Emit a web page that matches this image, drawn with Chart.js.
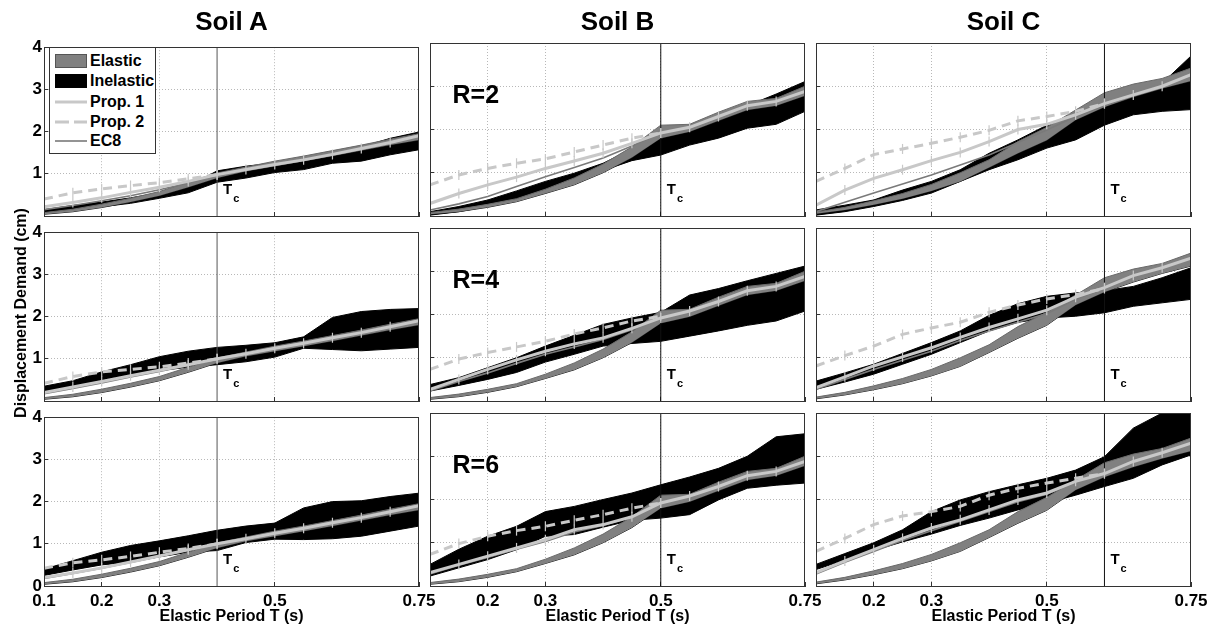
<!DOCTYPE html>
<html><head><meta charset="utf-8">
<script src="https://cdn.jsdelivr.net/npm/chart.js@4.4.0/dist/chart.umd.min.js"></script>
<style>
html,body{margin:0;padding:0;background:#fff;}
body{width:1215px;height:628px;position:relative;overflow:hidden;font-family:'Liberation Sans',Arial,sans-serif;}
.panel{position:absolute;}
.txt{position:absolute;font-weight:bold;color:#000;white-space:nowrap;}
#legend{position:absolute;background:#fff;border:1px solid #333;box-sizing:border-box;}
#legend svg{position:absolute;}
</style></head><body>
<div id="fig"></div>
<script>
// ---------- DATA ----------
const periods = [0.1,0.15,0.2,0.25,0.3,0.35,0.4,0.45,0.5,0.55,0.6,0.65,0.7,0.75];
const xTickValues = [0.1,0.2,0.3,0.5,0.75];
const yTickValues = [0,1,2,3,4];
const soilNames = ['Soil A','Soil B','Soil C'];
const cornerPeriods = [0.4,0.5,0.6];
const behaviourFactors = [2,4,6];
const legendLabels = ['Elastic','Inelastic','Prop. 1','Prop. 2','EC8'];
const xAxisTitle = 'Elastic Period T (s)';
const yAxisTitle = 'Displacement Demand (cm)';

// Elastic band (same for all R) per soil
const elasticA_lo = [0.04,0.1,0.2,0.33,0.48,0.68,0.9,1.06,1.18,1.3,1.42,1.55,1.68,1.8];
const elasticA_hi = [0.08,0.16,0.28,0.42,0.58,0.8,1.02,1.16,1.3,1.42,1.55,1.68,1.82,1.95];
const elasticB_lo = [0.04,0.1,0.2,0.33,0.52,0.72,1.0,1.35,1.8,1.95,2.2,2.45,2.55,2.78];
const elasticB_hi = [0.08,0.16,0.27,0.4,0.62,0.88,1.2,1.6,2.1,2.12,2.4,2.65,2.72,3.0];
const elasticC_lo = [0.05,0.14,0.26,0.4,0.58,0.8,1.12,1.45,1.75,2.22,2.52,2.75,2.95,3.12];
const elasticC_hi = [0.09,0.2,0.35,0.52,0.73,1.0,1.3,1.72,2.05,2.45,2.85,3.05,3.18,3.42];

// Soil A
const inelA2_lo = [0.07,0.15,0.22,0.3,0.42,0.55,0.8,0.9,1.03,1.1,1.25,1.3,1.45,1.57];
const inelA2_hi = [0.15,0.25,0.33,0.43,0.55,0.7,1.07,1.18,1.26,1.37,1.53,1.64,1.84,1.99];
const prop1A2 = [0.22,0.32,0.43,0.56,0.68,0.82,0.98,1.1,1.22,1.33,1.46,1.6,1.74,1.9];
const prop2A2 = [0.4,0.55,0.64,0.72,0.79,0.88,0.98,null,null,null,null,null,null,null];
const ec8A2 = [0.15,0.25,0.36,0.48,0.62,0.78,0.98,1.1,1.22,1.33,1.46,1.6,1.74,1.9];

const inelA4_lo = [0.22,0.33,0.5,0.62,0.72,0.8,0.86,0.93,1.04,1.25,1.22,1.19,1.23,1.27];
const inelA4_hi = [0.35,0.48,0.69,0.86,1.05,1.18,1.27,1.32,1.38,1.52,1.98,2.12,2.17,2.19];
const prop1A4 = [0.2,0.33,0.46,0.6,0.73,0.86,1.0,1.12,1.25,1.37,1.5,1.62,1.76,1.9];
const prop2A4 = [0.42,0.58,0.69,0.75,0.81,0.9,1.0,null,null,null,null,null,null,null];
const ec8A4 = [0.17,0.3,0.43,0.57,0.7,0.84,1.0,1.12,1.25,1.37,1.5,1.62,1.76,1.9];

const inelA6_lo = [0.25,0.38,0.5,0.57,0.69,0.8,0.84,1.03,1.11,1.1,1.12,1.18,1.3,1.42];
const inelA6_hi = [0.4,0.6,0.8,0.96,1.07,1.19,1.32,1.42,1.49,1.85,2.0,2.02,2.12,2.2];
const prop1A6 = [0.2,0.31,0.43,0.57,0.71,0.86,1.0,1.12,1.25,1.37,1.5,1.62,1.76,1.9];
const prop2A6 = [0.42,0.55,0.62,0.7,0.8,0.89,1.0,null,null,null,null,null,null,null];
const ec8A6 = [0.18,0.3,0.42,0.56,0.7,0.85,1.0,1.12,1.25,1.37,1.5,1.62,1.76,1.9];

// Soil B
const inelB2_lo = [0.02,0.1,0.22,0.37,0.53,0.78,1.05,1.28,1.41,1.64,1.8,2.03,2.12,2.42];
const inelB2_hi = [0.1,0.22,0.37,0.58,0.8,0.99,1.22,1.55,1.78,2.07,2.25,2.55,2.82,3.11];
const prop1B2 = [0.29,0.52,0.72,0.9,1.1,1.27,1.45,1.68,1.92,2.05,2.3,2.55,2.65,2.88];
const prop2B2 = [0.72,0.95,1.1,1.22,1.32,1.48,1.64,1.8,1.92,null,null,null,null,null];
const ec8B2 = [0.14,0.28,0.45,0.68,0.91,1.12,1.34,1.62,1.92,2.05,2.3,2.55,2.65,2.88];

const inelB4_lo = [0.23,0.36,0.5,0.66,0.9,1.08,1.27,1.33,1.38,1.5,1.62,1.75,1.85,2.08];
const inelB4_hi = [0.38,0.54,0.77,1.0,1.27,1.52,1.77,1.92,2.05,2.45,2.6,2.78,2.95,3.12];
const prop1B4 = [0.27,0.5,0.73,0.95,1.15,1.32,1.46,1.68,1.92,2.08,2.3,2.55,2.65,2.88];
const prop2B4 = [0.73,0.97,1.12,1.25,1.38,1.55,1.69,1.85,1.96,null,null,null,null,null];
const ec8B4 = [0.23,0.45,0.65,0.87,1.08,1.25,1.42,1.65,1.92,2.08,2.3,2.55,2.65,2.88];

const inelB6_lo = [0.23,0.42,0.61,0.84,1.15,1.19,1.36,1.52,1.57,1.65,1.99,2.26,2.33,2.38];
const inelB6_hi = [0.5,0.85,1.15,1.38,1.72,1.84,2.0,2.15,2.34,2.52,2.72,3.0,3.45,3.52];
const prop1B6 = [0.31,0.5,0.69,0.88,1.07,1.3,1.42,1.6,1.92,2.08,2.3,2.55,2.65,2.88];
const prop2B6 = [0.73,0.98,1.15,1.28,1.38,1.52,1.65,1.8,1.92,null,null,null,null,null];
const ec8B6 = [0.28,0.48,0.66,0.85,1.03,1.25,1.4,1.6,1.92,2.08,2.3,2.55,2.65,2.88];

// Soil C
const inelC2_lo = [0.02,0.1,0.22,0.36,0.53,0.8,1.07,1.3,1.57,1.76,2.1,2.34,2.42,2.46];
const inelC2_hi = [0.14,0.25,0.37,0.6,0.8,1.07,1.45,1.76,2.1,2.34,2.55,2.78,3.07,3.7];
const prop1C2 = [0.25,0.6,0.87,1.07,1.28,1.47,1.72,2.0,2.12,2.34,2.6,2.8,3.0,3.27];
const prop2C2 = [0.8,1.1,1.42,1.55,1.68,1.82,1.98,2.2,2.3,2.42,2.6,null,null,null];
const ec8C2 = [0.1,0.32,0.53,0.74,0.95,1.18,1.41,1.7,1.99,2.3,2.55,2.8,3.0,3.27];

const inelC4_lo = [0.27,0.44,0.62,0.85,1.08,1.35,1.62,1.82,1.92,1.96,2.04,2.19,2.27,2.35];
const inelC4_hi = [0.46,0.65,0.85,1.1,1.35,1.62,1.98,2.25,2.42,2.5,2.55,2.65,2.85,3.08];
const prop1C4 = [0.31,0.56,0.81,1.02,1.23,1.47,1.7,1.9,2.1,2.4,2.62,2.9,3.08,3.3];
const prop2C4 = [0.81,1.05,1.27,1.54,1.69,1.82,2.05,2.22,2.36,2.46,2.6,null,null,null];
const ec8C4 = [0.27,0.5,0.73,0.94,1.15,1.4,1.62,1.82,2.02,2.35,2.6,2.9,3.08,3.3];

const inelC6_lo = [0.38,0.6,0.82,1.02,1.2,1.4,1.57,1.76,1.92,2.1,2.3,2.49,2.8,3.03];
const inelC6_hi = [0.5,0.75,1.0,1.3,1.72,1.99,2.18,2.34,2.49,2.68,2.99,3.65,4.0,4.0];
const prop1C6 = [0.31,0.58,0.84,1.1,1.34,1.53,1.76,1.99,2.15,2.42,2.6,2.88,3.08,3.3];
const prop2C6 = [0.8,1.1,1.42,1.62,1.72,1.84,2.1,2.26,2.38,2.49,2.6,null,null,null];
const ec8C6 = [0.28,0.55,0.8,1.05,1.28,1.5,1.72,1.95,2.12,2.4,2.6,2.88,3.08,3.3];

// ---------- lookup tables built from the arrays ----------
const elastic = [[elasticA_lo,elasticA_hi],[elasticB_lo,elasticB_hi],[elasticC_lo,elasticC_hi]];
const panelData = {
  A2:[inelA2_lo,inelA2_hi,prop1A2,prop2A2,ec8A2], A4:[inelA4_lo,inelA4_hi,prop1A4,prop2A4,ec8A4], A6:[inelA6_lo,inelA6_hi,prop1A6,prop2A6,ec8A6],
  B2:[inelB2_lo,inelB2_hi,prop1B2,prop2B2,ec8B2], B4:[inelB4_lo,inelB4_hi,prop1B4,prop2B4,ec8B4], B6:[inelB6_lo,inelB6_hi,prop1B6,prop2B6,ec8B6],
  C2:[inelC2_lo,inelC2_hi,prop1C2,prop2C2,ec8C2], C4:[inelC4_lo,inelC4_hi,prop1C4,prop2C4,ec8C4], C6:[inelC6_lo,inelC6_hi,prop1C6,prop2C6,ec8C6]
};

// ---------- layout & style ----------
const FONT = "'Liberation Sans', Arial, sans-serif";
Chart.defaults.font.family = FONT;
const COL_LEFT = [44, 430, 816], ROW_TOP = [43, 228, 413], PW = 375, PH = 173;
const PAD_L = 46, PAD_T = 12, PAD_R = 34, PAD_B = 30;
const C_PROP = '#c8c8c8', C_EC8 = '#7a7a7a', C_EL = '#808080';
const fig = document.getElementById('fig');
const toXY = arr => periods.map((t, i) => ({x: t, y: arr[i]}));

const boxPlugin = {
  id: 'box',
  afterDraw(chart) {
    const a = chart.chartArea, g = chart.ctx;
    g.save(); g.strokeStyle = '#333'; g.lineWidth = 1;
    g.strokeRect(Math.round(a.left) + 0.5, Math.round(a.top) + 0.5,
                 Math.round(a.right) - Math.round(a.left) - 1, Math.round(a.bottom) - Math.round(a.top));
    g.restore();
  }
};

function makeAnnot(tc, col, R) {
  return {
    id: 'annot',
    afterDatasetsDraw(chart) {
      const xs = chart.scales.x, ys = chart.scales.y, g = chart.ctx;
      g.save(); g.fillStyle = '#000'; g.textAlign = 'left'; g.textBaseline = 'alphabetic';
      const x0 = xs.getPixelForValue(tc) + 6;
      g.font = 'bold 15px ' + FONT;
      g.fillText('T', x0, ys.getPixelForValue(0.51));
      const w = g.measureText('T').width;
      g.font = 'bold 11px ' + FONT;
      g.fillText('c', x0 + w + 1, ys.getPixelForValue(0.32));
      if (col === 1) {
        g.font = 'bold 25px ' + FONT;
        g.fillText('R=' + R, xs.getPixelForValue(0.139), ys.getPixelForValue(2.61));
      }
      g.restore();
    }
  };
}

const xInterior = xTickValues.slice(1, -1), yInterior = yTickValues.slice(1, -1);

for (let r = 0; r < 3; r++) {
  for (let c = 0; c < 3; c++) {
    const R = behaviourFactors[r], tc = cornerPeriods[c];
    const [lo, hi, p1, p2, ec8] = panelData['ABC'[c] + R];
    const [elLo, elHi] = elastic[c];
    const W = PW + PAD_L + PAD_R, H = PH + PAD_T + PAD_B;
    const div = document.createElement('div');
    div.className = 'panel';
    div.style.left = (COL_LEFT[c] - PAD_L) + 'px';
    div.style.top = (ROW_TOP[r] - PAD_T) + 'px';
    div.style.width = W + 'px'; div.style.height = H + 'px';
    const cv = document.createElement('canvas');
    cv.width = W; cv.height = H;
    div.appendChild(cv); fig.appendChild(div);

    const tickPts = {pointStyle: 'line', pointRotation: 90, pointRadius: 5, pointBorderColor: C_PROP, pointBorderWidth: 1.2};
    new Chart(cv, {
      type: 'line',
      data: {datasets: [
        {data: toXY(lo), borderColor: '#000', borderWidth: 1, fill: false, order: 10},
        {data: toXY(hi), borderColor: '#000', borderWidth: 1, backgroundColor: '#000', fill: '-1', order: 9},
        {data: toXY(elLo), borderColor: '#1a1a1a', borderWidth: 1, fill: false, order: 8},
        {data: toXY(elHi), borderColor: '#6a6a6a', borderWidth: 1, backgroundColor: C_EL, fill: '-1', order: 7},
        {data: [{x: tc, y: yTickValues[0]}, {x: tc, y: yTickValues[yTickValues.length - 1]}], borderColor: c === 0 ? '#555' : '#111', borderWidth: 1, order: 6},
        {data: toXY(ec8), borderColor: C_EC8, borderWidth: 1.6, order: 4},
        Object.assign({data: toXY(p1), borderColor: C_PROP, borderWidth: 3, order: 3}, tickPts),
        Object.assign({data: toXY(p2), borderColor: C_PROP, borderWidth: 3, borderDash: [9, 6], order: 2}, tickPts)
      ]},
      options: {
        responsive: false, animation: false, events: [],
        layout: {padding: {left: 0, top: PAD_T, right: PAD_R, bottom: 0}},
        elements: {point: {radius: 0}, line: {tension: 0}},
        plugins: {legend: {display: false}, tooltip: {enabled: false}},
        scales: {
          x: {
            type: 'linear', min: xTickValues[0], max: xTickValues[xTickValues.length - 1],
            afterBuildTicks: s => { s.ticks = xTickValues.map(v => ({value: v})); },
            afterFit: s => { s.height = PAD_B; },
            ticks: {display: r === 2, autoSkip: false, maxRotation: 0, padding: 9, color: '#000',
              font: {size: 17, weight: 'bold'},
              callback: v => (c > 0 && v === xTickValues[0]) ? '' : String(v)},
            grid: {color: ctx => (ctx.tick && xInterior.includes(ctx.tick.value)) ? '#b8b8b8' : 'rgba(0,0,0,0)',
              tickColor: '#333', tickLength: -4, lineWidth: 1},
            border: {display: true, color: '#333', dash: [1, 2]}
          },
          y: {
            type: 'linear', min: yTickValues[0], max: yTickValues[yTickValues.length - 1],
            afterBuildTicks: s => { s.ticks = yTickValues.map(v => ({value: v})); },
            afterFit: s => { s.width = PAD_L; },
            ticks: {display: c === 0, autoSkip: false, padding: 6, color: '#000',
              font: {size: 17, weight: 'bold'},
              callback: v => (v === yTickValues[0] && r < 2) ? '' : String(v)},
            grid: {color: ctx => (ctx.tick && yInterior.includes(ctx.tick.value)) ? '#b8b8b8' : 'rgba(0,0,0,0)',
              tickColor: '#333', tickLength: -4, lineWidth: 1},
            border: {display: true, color: '#333', dash: [1, 2]}
          }
        }
      },
      plugins: [boxPlugin, makeAnnot(tc, c, R)]
    });
  }
}

// ---------- texts ----------
function addText(txt, left, top, size, extra) {
  const d = document.createElement('div');
  d.className = 'txt'; d.textContent = txt;
  d.style.left = left + 'px'; d.style.top = top + 'px';
  d.style.fontSize = size + 'px'; d.style.lineHeight = size + 'px';
  Object.assign(d.style, extra || {});
  fig.appendChild(d); return d;
}
soilNames.forEach((s, c) => addText(s, COL_LEFT[c], 8, 26, {width: PW + 'px', textAlign: 'center'}));
soilNames.forEach((s, c) => addText(xAxisTitle, COL_LEFT[c], 608, 16, {width: PW + 'px', textAlign: 'center'}));
addText(yAxisTitle, 21 - 150, 313 - 8, 16, {width: '300px', textAlign: 'center', transform: 'rotate(-90deg)', transformOrigin: '150px 8px'});

// ---------- legend (inside Soil A, R=2) ----------
const lg = document.createElement('div');
lg.id = 'legend';
lg.style.left = '49px'; lg.style.top = '47px'; lg.style.width = '107px'; lg.style.height = '107px';
fig.appendChild(lg);
const rowCenters = [13, 33, 53.5, 73.5, 93];
const swatches = [
  '<rect x="0.5" y="0.5" width="31" height="13" fill="' + C_EL + '" stroke="#555"/>',
  '<rect x="0.5" y="0.5" width="31" height="13" fill="#000" stroke="#000"/>',
  '<line x1="0" y1="7" x2="32" y2="7" stroke="' + C_PROP + '" stroke-width="3"/>',
  '<line x1="0" y1="7" x2="32" y2="7" stroke="' + C_PROP + '" stroke-width="3" stroke-dasharray="14 5"/>',
  '<line x1="0" y1="7" x2="32" y2="7" stroke="' + C_EC8 + '" stroke-width="1.6"/>'
];
legendLabels.forEach((lab, i) => {
  const yc = rowCenters[i];
  const sv = document.createElementNS('http://www.w3.org/2000/svg', 'svg');
  sv.setAttribute('width', '32'); sv.setAttribute('height', '14');
  sv.style.left = '5px'; sv.style.top = (yc - 7) + 'px';
  sv.innerHTML = swatches[i];
  lg.appendChild(sv);
  const t = document.createElement('div');
  t.className = 'txt'; t.textContent = lab;
  t.style.left = '40px'; t.style.top = (yc + 5.5 - 13.5) + 'px';
  t.style.fontSize = '16px'; t.style.lineHeight = '16px';
  lg.appendChild(t);
});
</script>
</body></html>
